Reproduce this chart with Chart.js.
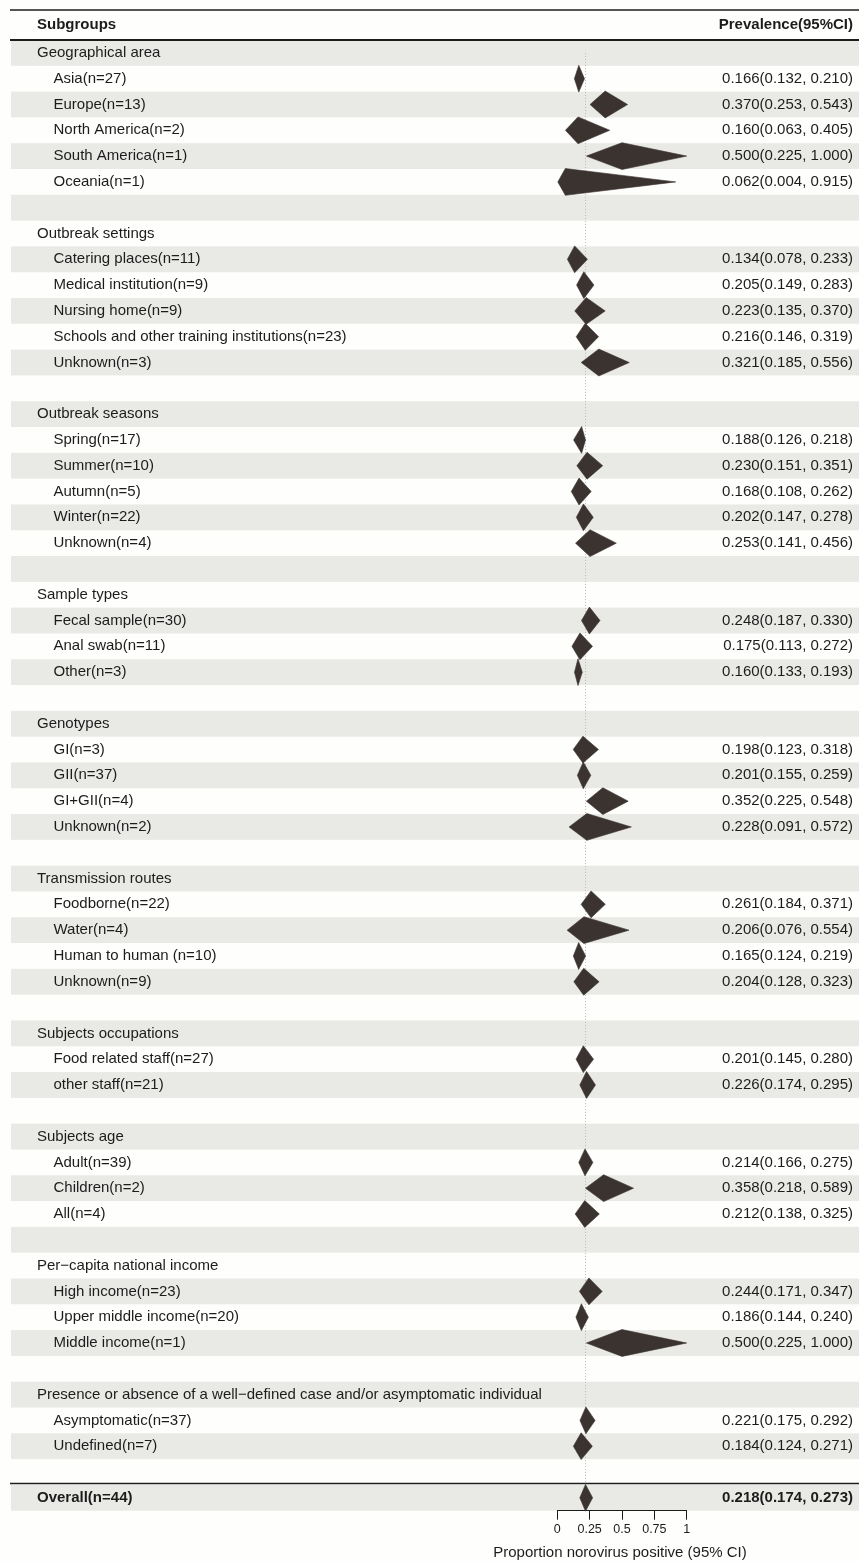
<!DOCTYPE html>
<html>
<head>
<meta charset="utf-8">
<title>Norovirus prevalence by subgroup</title>
<script src="https://cdn.jsdelivr.net/npm/chart.js@4.4.1/dist/chart.umd.min.js"></script>
<style>
  html, body { margin: 0; padding: 0; background: #fefefc; }
  canvas { display: block; }
</style>
</head>
<body>
<canvas id="forest" width="859" height="1563"></canvas>
<script>
// Row labels, top to bottom. Rows without an estimate are group headings or spacers.
const rowLabels = [
  'Geographical area',
  'Asia(n=27)', 'Europe(n=13)', 'North America(n=2)', 'South America(n=1)', 'Oceania(n=1)',
  '',
  'Outbreak settings',
  'Catering places(n=11)', 'Medical institution(n=9)', 'Nursing home(n=9)',
  'Schools and other training institutions(n=23)', 'Unknown(n=3)',
  '',
  'Outbreak seasons',
  'Spring(n=17)', 'Summer(n=10)', 'Autumn(n=5)', 'Winter(n=22)', 'Unknown(n=4)',
  '',
  'Sample types',
  'Fecal sample(n=30)', 'Anal swab(n=11)', 'Other(n=3)',
  '',
  'Genotypes',
  'GI(n=3)', 'GII(n=37)', 'GI+GII(n=4)', 'Unknown(n=2)',
  '',
  'Transmission routes',
  'Foodborne(n=22)', 'Water(n=4)', 'Human to human (n=10)', 'Unknown(n=9)',
  '',
  'Subjects occupations',
  'Food related staff(n=27)', 'other staff(n=21)',
  '',
  'Subjects age',
  'Adult(n=39)', 'Children(n=2)', 'All(n=4)',
  '',
  'Per\u2212capita national income',
  'High income(n=23)', 'Upper middle income(n=20)', 'Middle income(n=1)',
  '',
  'Presence or absence of a well\u2212defined case and/or asymptomatic individual',
  'Asymptomatic(n=37)', 'Undefined(n=7)',
  '',
  'Overall(n=44)'
];

// Pooled prevalence per row
const estimates = [
  null, 0.166, 0.370, 0.160, 0.500, 0.062, null,
  null, 0.134, 0.205, 0.223, 0.216, 0.321, null,
  null, 0.188, 0.230, 0.168, 0.202, 0.253, null,
  null, 0.248, 0.175, 0.160, null,
  null, 0.198, 0.201, 0.352, 0.228, null,
  null, 0.261, 0.206, 0.165, 0.204, null,
  null, 0.201, 0.226, null,
  null, 0.214, 0.358, 0.212, null,
  null, 0.244, 0.186, 0.500, null,
  null, 0.221, 0.184, null,
  0.218
];

// Lower bound of the 95% CI
const lowerCI = [
  null, 0.132, 0.253, 0.063, 0.225, 0.004, null,
  null, 0.078, 0.149, 0.135, 0.146, 0.185, null,
  null, 0.126, 0.151, 0.108, 0.147, 0.141, null,
  null, 0.187, 0.113, 0.133, null,
  null, 0.123, 0.155, 0.225, 0.091, null,
  null, 0.184, 0.076, 0.124, 0.128, null,
  null, 0.145, 0.174, null,
  null, 0.166, 0.218, 0.138, null,
  null, 0.171, 0.144, 0.225, null,
  null, 0.175, 0.124, null,
  0.174
];

// Upper bound of the 95% CI
const upperCI = [
  null, 0.210, 0.543, 0.405, 1.000, 0.915, null,
  null, 0.233, 0.283, 0.370, 0.319, 0.556, null,
  null, 0.218, 0.351, 0.262, 0.278, 0.456, null,
  null, 0.330, 0.272, 0.193, null,
  null, 0.318, 0.259, 0.548, 0.572, null,
  null, 0.371, 0.554, 0.219, 0.323, null,
  null, 0.280, 0.295, null,
  null, 0.275, 0.589, 0.325, null,
  null, 0.347, 0.240, 1.000, null,
  null, 0.292, 0.271, null,
  0.273
];

// Axis ticks
const xTicks = [0, 0.25, 0.5, 0.75, 1];
const xTitle = 'Proportion norovirus positive (95% CI)';

const overallIndex = rowLabels.length - 1;
const FONT = '"Liberation Sans", Arial, Helvetica, sans-serif';
const INK = '#1c1c1c';
const DIAMOND = '#3b3330';
const STRIPE = '#e9eae6';
const HALF_H = 0.52; // diamond half-height, in rows

// One closed diamond per estimated row: lower -> top -> upper -> bottom -> lower
const datasets = [];
estimates.forEach((est, i) => {
  if (est === null) return;
  datasets.push({
    data: [
      { x: lowerCI[i], y: i },
      { x: est, y: i - HALF_H },
      { x: upperCI[i], y: i },
      { x: est, y: i + HALF_H },
      { x: lowerCI[i], y: i }
    ],
    showLine: true,
    fill: 'shape',
    backgroundColor: DIAMOND,
    borderColor: DIAMOND,
    borderWidth: 0.6,
    pointRadius: 0,
    pointHoverRadius: 0,
    tension: 0,
    clip: false
  });
});

const fmt = v => v.toFixed(3);

const tablePlugin = {
  id: 'forestTable',
  beforeDraw(chart) {
    const { ctx, width, scales: { y } } = chart;
    ctx.save();
    ctx.fillStyle = '#fefefc';
    ctx.fillRect(0, 0, width, chart.height);
    // alternating row bands
    const rowH = Math.abs(y.getPixelForValue(1) - y.getPixelForValue(0));
    rowLabels.forEach((_, i) => {
      if (i % 2 === 0) {
        const top = y.getPixelForValue(i) - rowH / 2;
        ctx.fillStyle = STRIPE;
        ctx.fillRect(11, top, width - 11, rowH);
      }
    });
    // rules
    ctx.strokeStyle = INK;
    ctx.lineWidth = 1.5;
    ctx.beginPath(); ctx.moveTo(10, 10); ctx.lineTo(width, 10); ctx.stroke();
    ctx.lineWidth = 2;
    ctx.beginPath(); ctx.moveTo(10, 40); ctx.lineTo(width, 40); ctx.stroke();
    const ruleY = y.getPixelForValue(overallIndex) - rowH / 2 - 1.5;
    ctx.lineWidth = 1.5;
    ctx.beginPath(); ctx.moveTo(10, ruleY); ctx.lineTo(width, ruleY); ctx.stroke();
    ctx.restore();
  },
  beforeDatasetsDraw(chart) {
    const { ctx, scales: { x, y } } = chart;
    // dotted reference line at the overall estimate
    const xr = x.getPixelForValue(estimates[overallIndex]);
    ctx.save();
    ctx.strokeStyle = '#b9b9b9';
    ctx.lineWidth = 1;
    ctx.setLineDash([1, 2]);
    ctx.beginPath();
    ctx.moveTo(xr, y.getPixelForValue(0));
    ctx.lineTo(xr, y.getPixelForValue(overallIndex));
    ctx.stroke();
    ctx.restore();
  },
  afterDraw(chart) {
    const { ctx, scales: { x, y } } = chart;
    ctx.save();
    ctx.fillStyle = INK;
    ctx.textBaseline = 'middle';
    // column headers
    ctx.font = 'bold 15px ' + FONT;
    ctx.textAlign = 'left';
    ctx.fillText('Subgroups', 37, 25);
    ctx.textAlign = 'right';
    ctx.fillText('Prevalence(95%CI)', 853, 25);
    rowLabels.forEach((label, i) => {
      if (!label) return;
      const yy = y.getPixelForValue(i);
      const isOverall = i === overallIndex;
      const isHeading = estimates[i] === null;
      ctx.font = (isOverall ? 'bold ' : '') + '15px ' + FONT;
      ctx.textAlign = 'left';
      ctx.fillText(label, isHeading || isOverall ? 37 : 53.5, yy);
      if (!isHeading) {
        ctx.textAlign = 'right';
        ctx.fillText(fmt(estimates[i]) + '(' + fmt(lowerCI[i]) + ', ' + fmt(upperCI[i]) + ')', 853, yy);
      }
    });
    // x-axis title, centred under the axis (wider than the axis itself)
    ctx.font = '15px ' + FONT;
    ctx.textAlign = 'center';
    ctx.fillText(xTitle, (x.left + x.right) / 2 - 2, 1553);
    ctx.restore();
  }
};

new Chart(document.getElementById('forest'), {
  type: 'line',
  data: { datasets },
  options: {
    responsive: false,
    animation: false,
    devicePixelRatio: 1,
    events: [],
    layout: { padding: { left: 557.3, right: 172.3, top: 40, bottom: 0 } },
    plugins: {
      legend: { display: false },
      tooltip: { enabled: false },
      title: { display: false }
    },
    scales: {
      x: {
        type: 'linear',
        min: xTicks[0],
        max: xTicks[xTicks.length - 1],
        afterBuildTicks(scale) { scale.ticks = xTicks.map(v => ({ value: v })); },
        afterFit(scale) { scale.height = 52.3; },
        ticks: {
          color: INK,
          font: { family: FONT, size: 12.5 },
          padding: 2,
          maxRotation: 0,
          autoSkip: false,
          callback: v => String(v)
        },
        grid: { display: true, drawOnChartArea: false, drawTicks: true, tickLength: 9, color: INK, lineWidth: 1 },
        border: { display: true, color: INK, width: 1 },
        title: { display: false }
      },
      y: {
        type: 'linear',
        display: false,
        reverse: true,
        min: -0.5,
        max: overallIndex + 0.5
      }
    }
  },
  plugins: [tablePlugin]
});
</script>
</body>
</html>
